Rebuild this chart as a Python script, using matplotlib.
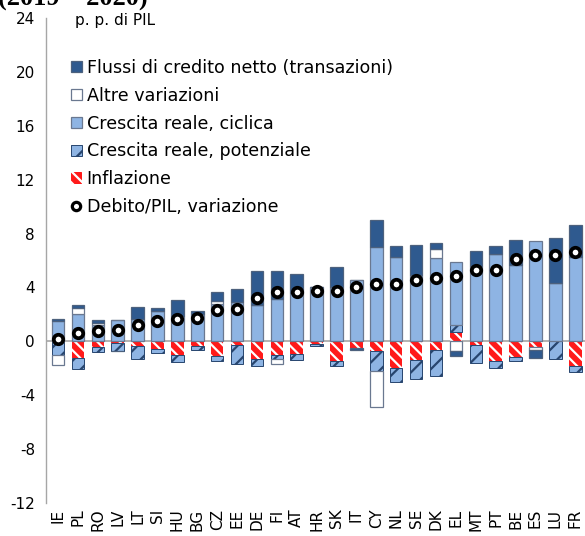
import matplotlib
matplotlib.use("Agg")
import matplotlib.pyplot as plt
from matplotlib.patches import Patch
from matplotlib.lines import Line2D
import numpy as np

plt.rcParams['font.family'] = ['DejaVu Sans']
plt.rcParams['axes.unicode_minus'] = False
plt.rcParams['hatch.linewidth'] = 1.6

countries = ['IE', 'PL', 'RO', 'LV', 'LT', 'SI', 'HU', 'BG', 'CZ', 'EE', 'DE', 'FI', 'AT', 'HR',
             'SK', 'IT', 'CY', 'NL', 'SE', 'DK', 'EL', 'MT', 'PT', 'BE', 'ES', 'LU', 'FR']
flussi = [0.2, 0.2, 0.2, -0.05, 0.89, 0.17, 1.23, 0.27, 0.69, 0.99, 2.47, 2.07, 1.41, 0.0,
          1.53, -0.1, 1.98, 0.81, 2.27, 0.44, -0.38, 1.11, 0.62, 1.9, -0.6, 3.36, 2.42]
altre = [-0.7, 0.42, 0.15, 0.0, 0.0, 0.0, 0.0, 0.0, 0.22, 0.0, 0.0, -0.35, 0.0, 0.0,
         0.0, 0.0, -2.71, 0.0, 0.0, 0.67, -0.72, 0.0, 0.0, 0.0, -0.2, 0.0, 0.0]
ciclica = [1.48, 2.05, 1.23, 1.55, 1.63, 2.27, 1.86, 2.0, 2.74, 2.91, 2.72, 3.16, 3.6, 4.07,
           4.02, 4.57, 6.99, 6.24, 4.89, 6.2, 4.69, 5.58, 6.49, 5.63, 7.43, 4.32, 6.24]
potenziale = [-1.0, -0.85, -0.37, -0.55, -0.94, -0.3, -0.5, -0.3, -0.37, -1.35, -0.55, -0.3, -0.45, -0.12,
              -0.37, 0.0, -1.48, -1.0, -1.36, -1.93, 0.5, -1.33, -0.49, -0.3, 0.0, -1.33, -0.44]
inflazione = [-0.05, -1.2, -0.42, -0.15, -0.35, -0.57, -1.0, -0.37, -1.1, -0.3, -1.3, -1.0, -0.95, -0.2,
              -1.45, -0.52, -0.72, -2.0, -1.4, -0.67, 0.7, -0.25, -1.46, -1.16, -0.42, 0.0, -1.83]
debito = [0.15, 0.62, 0.74, 0.84, 1.2, 1.48, 1.68, 1.7, 2.3, 2.37, 3.23, 3.65, 3.65, 3.73,
          3.73, 4.02, 4.22, 4.22, 4.52, 4.72, 4.84, 5.26, 5.33, 6.12, 6.44, 6.44, 6.62]
yticks = [-12, -8, -4, 0, 4, 8, 12, 16, 20, 24]

labels = ['Flussi di credito netto (transazioni)', 'Altre variazioni', 'Crescita reale, ciclica',
          'Crescita reale, potenziale', 'Inflazione', 'Debito/PIL, variazione']

DARK = '#2F5A8F'
LIGHT = '#8EB4E3'
RED = '#FF1A1A'

styles = {
    'infl': dict(facecolor=RED, edgecolor='white', hatch='\\\\\\', linewidth=0),
    'pot': dict(facecolor=LIGHT, edgecolor='#27456E', hatch='//', linewidth=0.7),
    'cic': dict(facecolor=LIGHT, edgecolor='#6A7890', linewidth=0.9),
    'alt': dict(facecolor='white', edgecolor='#6A7890', linewidth=0.9),
    'flu': dict(facecolor=DARK, edgecolor='#4D617D', linewidth=0.9),
}

fig = plt.figure(figsize=(5.85, 5.36), dpi=100)
ax = fig.add_axes([46 / 585, 1 - 503 / 536, (585 - 46) / 585, (503 - 18) / 536])

x = np.arange(len(countries))
width = 0.63
pos_base = np.zeros(len(x))
neg_base = np.zeros(len(x))
series = [(inflazione, 'infl'), (potenziale, 'pot'), (ciclica, 'cic'), (altre, 'alt'), (flussi, 'flu')]
for vals, key in series:
    v = np.array(vals, dtype=float)
    bottom = np.where(v >= 0, pos_base, neg_base)
    ax.bar(x, v, width, bottom=bottom, zorder=2, **styles[key])
    pos_base = pos_base + np.where(v > 0, v, 0)
    neg_base = neg_base + np.where(v < 0, v, 0)

ax.axhline(0, color='#A6A6A6', linewidth=1.2, zorder=1.5)
ax.plot(x, debito, linestyle='none', marker='o', markersize=6.8, markerfacecolor='white',
        markeredgecolor='black', markeredgewidth=2.7, zorder=4)

ax.set_xlim(-0.603, 26.49)
ax.set_ylim(-12, 24)
ax.set_yticks(yticks)
ax.set_yticklabels([str(t) for t in yticks], fontsize=11)
ax.set_xticks(x)
ax.set_xticklabels(countries, rotation=90, fontsize=11)
ax.tick_params(axis='both', length=0, pad=4)
ax.tick_params(axis='y', pad=8)
for s in ['top', 'right', 'bottom']:
    ax.spines[s].set_visible(False)
ax.spines['left'].set_color('#A6A6A6')
ax.spines['left'].set_linewidth(1.0)

fig.text(75 / 585, 1 - 20 / 536, 'p. p. di PIL', fontsize=11, va='center', ha='left')

handles = [
    Patch(**styles['flu']),
    Patch(**styles['alt']),
    Patch(**styles['cic']),
    Patch(**styles['pot']),
    Patch(**styles['infl']),
    Line2D([], [], linestyle='none', marker='o', markersize=6, markerfacecolor='white',
           markeredgecolor='black', markeredgewidth=2.3),
]
fig.legend(handles, labels, loc='upper left', bbox_to_anchor=(71 / 585, 1 - 59 / 536),
           frameon=False, fontsize=12.6, handlelength=0.6, handleheight=0.6,
           handletextpad=0.3, labelspacing=0.56, borderaxespad=0, borderpad=0)

fig.text(-0.003, 1 - 6 / 536, '(2019 \u2013 2020)', fontsize=19, fontweight='bold',
         family='Liberation Serif', va='baseline', ha='left')

fig.savefig('out.png', dpi=100)
